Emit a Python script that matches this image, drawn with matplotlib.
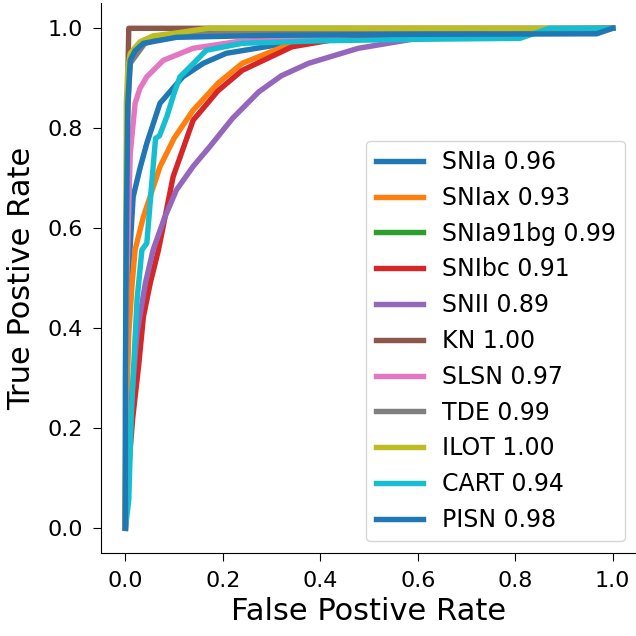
import matplotlib
matplotlib.use("Agg")
import matplotlib.pyplot as plt

labels = ["SNIa", "SNIax", "SNIa91bg", "SNIbc", "SNII", "KN", "SLSN", "TDE", "ILOT", "CART", "PISN"]
aucs = [0.96, 0.93, 0.99, 0.91, 0.89, 1.00, 0.97, 0.99, 1.00, 0.94, 0.98]

fpr_snia = [0, 0.002, 0.005, 0.009, 0.016, 0.03, 0.044, 0.071, 0.118, 0.16, 0.207, 0.3, 0.4, 0.6, 0.8, 1]
tpr_snia = [0, 0.3, 0.5, 0.55, 0.663, 0.72, 0.77, 0.85, 0.903, 0.93, 0.95, 0.965, 0.975, 0.99, 0.995, 1]

fpr_sniax = [0, 0.003, 0.007, 0.014, 0.02, 0.037, 0.071, 0.1, 0.139, 0.19, 0.24, 0.342, 0.45, 0.6, 0.8, 1]
tpr_sniax = [0, 0.25, 0.39, 0.49, 0.557, 0.623, 0.723, 0.78, 0.836, 0.89, 0.93, 0.97, 0.98, 0.99, 0.995, 1]

fpr_snia91bg = [0, 0.003, 0.01, 0.04, 0.1, 0.3, 1]
tpr_snia91bg = [0, 0.85, 0.94, 0.975, 0.988, 0.995, 1]

fpr_snibc = [0, 0.005, 0.015, 0.027, 0.037, 0.051, 0.068, 0.098, 0.139, 0.19, 0.24, 0.342, 0.443, 0.6, 0.8, 1]
tpr_snibc = [0, 0.1, 0.22, 0.323, 0.423, 0.49, 0.557, 0.703, 0.816, 0.875, 0.916, 0.963, 0.98, 0.99, 0.995, 1]

fpr_snii = [0, 0.005, 0.012, 0.024, 0.041, 0.057, 0.08, 0.105, 0.14, 0.173, 0.22, 0.274, 0.32, 0.376, 0.478, 0.6, 0.8, 1]
tpr_snii = [0, 0.12, 0.25, 0.39, 0.49, 0.557, 0.62, 0.677, 0.725, 0.763, 0.82, 0.873, 0.905, 0.93, 0.96, 0.98, 0.993, 1]

fpr_kn = [0, 0.005, 0.007, 1]
tpr_kn = [0, 0.9, 1.0, 1]

fpr_slsn = [0, 0.003, 0.01, 0.02, 0.03, 0.044, 0.078, 0.139, 0.227, 0.35, 0.5, 0.7, 1]
tpr_slsn = [0, 0.5, 0.75, 0.85, 0.88, 0.903, 0.936, 0.96, 0.973, 0.98, 0.99, 0.995, 1]

fpr_tde = [0, 0.003, 0.01, 0.04, 0.1, 0.3, 1]
tpr_tde = [0, 0.8, 0.93, 0.97, 0.985, 0.995, 1]

fpr_ilot = [0, 0.002, 0.005, 0.01, 0.03, 0.057, 0.1, 0.17, 1]
tpr_ilot = [0, 0.85, 0.92, 0.95, 0.973, 0.985, 0.99, 1.0, 1]

fpr_cart = [0, 0.007, 0.012, 0.017, 0.024, 0.034, 0.044, 0.055, 0.062, 0.07, 0.085, 0.1, 0.112, 0.14, 0.166, 0.24, 0.4, 0.6, 0.81, 0.87, 1]
tpr_cart = [0, 0.057, 0.223, 0.323, 0.457, 0.557, 0.57, 0.70, 0.78, 0.785, 0.823, 0.87, 0.903, 0.93, 0.956, 0.97, 0.975, 0.978, 0.98, 1.0, 1]

fpr_pisn = [0, 0.0, 0.002, 0.005, 0.01, 0.02, 0.037, 0.105, 0.3, 0.6, 0.967, 1]
tpr_pisn = [0, 0.3, 0.6, 0.85, 0.936, 0.955, 0.97, 0.982, 0.986, 0.988, 0.989, 1]

fprs = [fpr_snia, fpr_sniax, fpr_snia91bg, fpr_snibc, fpr_snii, fpr_kn, fpr_slsn, fpr_tde, fpr_ilot, fpr_cart, fpr_pisn]
tprs = [tpr_snia, tpr_sniax, tpr_snia91bg, tpr_snibc, tpr_snii, tpr_kn, tpr_slsn, tpr_tde, tpr_ilot, tpr_cart, tpr_pisn]

fig = plt.figure(figsize=(6.36, 6.36), dpi=100)
ax = fig.add_axes([101 / 636, 82.7 / 636, 536 / 636, 550 / 636])

for lab, auc, f, t in zip(labels, aucs, fprs, tprs):
    ax.plot(f, t, lw=3.9, label=f"{lab} {auc:.2f}")

ax.set_xlim(-0.05, 1.05)
ax.set_ylim(-0.05, 1.05)
ax.set_xticks([0, 0.2, 0.4, 0.6, 0.8, 1.0])
ax.set_yticks([0, 0.2, 0.4, 0.6, 0.8, 1.0])
ax.tick_params(labelsize=16, length=6, pad=7)
ax.spines["top"].set_visible(False)
ax.spines["right"].set_visible(False)
ax.set_xlabel("False Postive Rate", fontsize=22, labelpad=4)
ax.set_ylabel("True Postive Rate", fontsize=22, labelpad=8)
ax.legend(loc="lower right", fontsize=17, labelspacing=0.5)

fig.savefig("out.png", dpi=100)
